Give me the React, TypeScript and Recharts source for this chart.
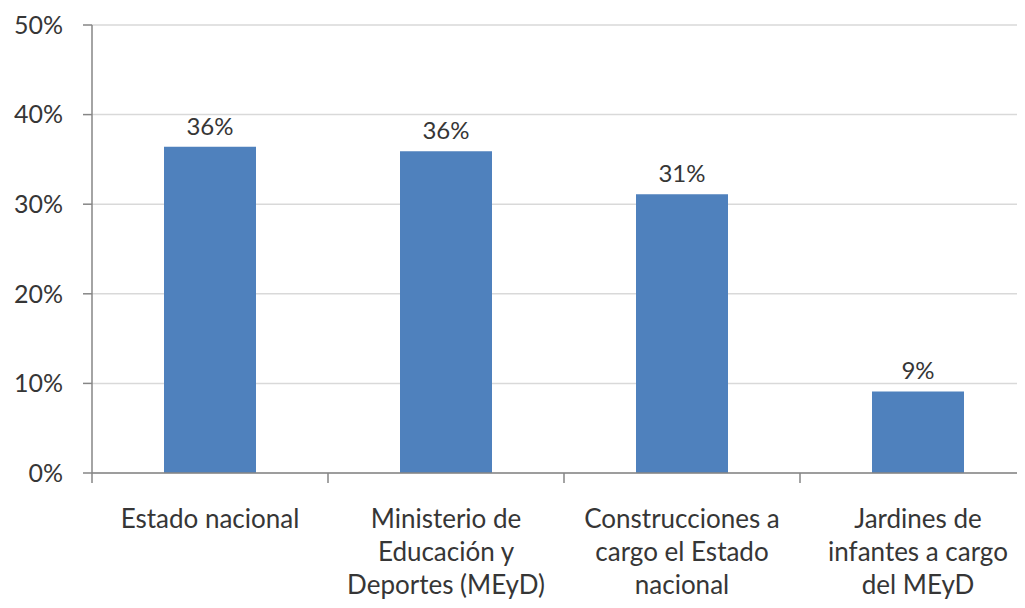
import React, {FC} from "react";
import {Bar, BarChart, CartesianGrid, LabelList, XAxis, YAxis} from "recharts";

const categories = [
  "Estado nacional",
  "Ministerio de\nEducación y\nDeportes (MEyD)",
  "Construcciones a\ncargo el Estado\nnacional",
  "Jardines de\ninfantes a cargo\ndel MEyD",
];
const shares = [36.4, 35.9, 31.1, 9.1];
const yTicks = [0, 10, 20, 30, 40, 50];

const data = categories.map((name, i) => ({name, value: shares[i]}));

const FONT = "Lato, 'Open Sans', sans-serif";
const TEXT = "#363636";
const CHART_W = 1040;
const PLOT_LEFT = 92;
const PLOT_RIGHT = 4;
const BAND = (CHART_W - PLOT_LEFT - PLOT_RIGHT) / categories.length;

type TickProps = {x?: number; y?: number; payload?: {value: string}};

const CategoryTick: FC<TickProps> = ({x = 0, y = 0, payload}) => {
  const lines = (payload?.value ?? "").split("\n");
  const left = x - BAND / 2;
  return (
    <g>
      <line x1={left} y1={y} x2={left} y2={y + 10} stroke="#868686" strokeWidth={1.5} />
      <text x={x} y={y + 55} textAnchor="middle" fill={TEXT} fontSize={26} fontFamily={FONT}>
        {lines.map((line, i) => (
          <tspan key={i} x={x} dy={i === 0 ? 0 : 33}>{line}</tspan>
        ))}
      </text>
    </g>
  );
};

const App: FC = () => {
  return (
    <div style={{margin: -8, width: 1025, height: 608, overflow: "hidden", background: "#fff"}}>
      <BarChart
        width={CHART_W}
        height={608}
        data={data}
        margin={{top: 25, right: PLOT_RIGHT, bottom: 0, left: 0}}
        barCategoryGap={0}
      >
        <CartesianGrid vertical={false} stroke="#d9d9d9" strokeWidth={1.5} />
        <XAxis
          dataKey="name"
          axisLine={{stroke: "#868686", strokeWidth: 1.5}}
          tickLine={false}
          tickSize={0}
          tickMargin={0}
          height={135}
          interval={0}
          tick={<CategoryTick />}
        />
        <YAxis
          domain={[0, 50]}
          ticks={yTicks}
          width={PLOT_LEFT}
          axisLine={{stroke: "#868686", strokeWidth: 1.5}}
          tickLine={{stroke: "#868686", strokeWidth: 1.5}}
          tickSize={9}
          tickMargin={20}
          tickFormatter={(v: number) => `${v}%`}
          tick={{fill: TEXT, fontSize: 25, fontFamily: FONT}}
        />
        <Bar dataKey="value" fill="#4f81bd" barSize={92} isAnimationActive={false}>
          <LabelList
            dataKey="value"
            position="top"
            offset={12}
            formatter={(v: number) => `${Math.round(v)}%`}
            style={{fill: TEXT, fontSize: 24, fontFamily: FONT}}
          />
        </Bar>
      </BarChart>
    </div>
  );
};

export default App;
